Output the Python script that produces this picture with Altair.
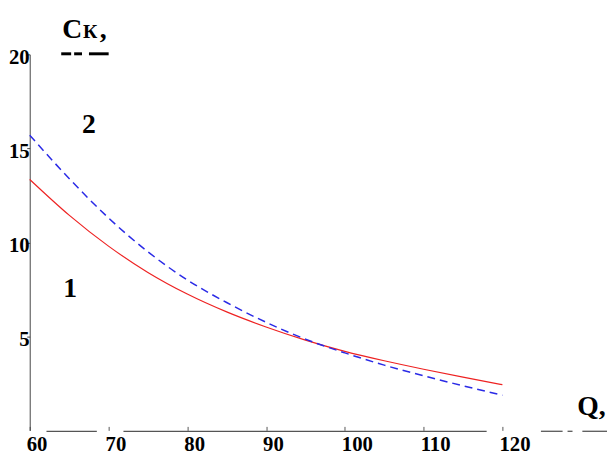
import altair as alt
import pandas as pd

# ---- data ----
q = [60, 65, 70, 75, 80, 85, 90, 95, 100, 105, 110, 115, 120]
curve1 = [13.35, 11.45, 9.8, 8.4, 7.25, 6.3, 5.5, 4.8, 4.2, 3.7, 3.25, 2.83, 2.43]      # red, solid
curve2 = [15.7, 13.4, 11.3, 9.5, 8.0, 6.8, 5.75, 4.85, 4.12, 3.47, 2.9, 2.37, 1.87]    # blue, dashed

x_ticks = [60, 70, 80, 90, 100, 110, 120]
y_ticks = [5, 10, 15, 20]

# annotation texts (position in data units)
ann_text = ["C", "К", ",", "Q,", "2", "1"]
ann_q = [64.13, 66.76, 68.89, 129.5, 67.52, 65.14]
ann_v = [20.89, 20.89, 20.89, 0.84, 15.80, 7.09]
ann_size = [28, 20, 28, 28, 28, 28]
ann_align = ["left", "left", "left", "left", "center", "center"]

# x-axis line pieces and clipped-text fragments
seg_a = [62.13, 71.9, 124.89, 128.27, 130.15]
seg_b = [68.52, 118.0, 127.64, 128.9, 133.28]
seg_v = [-0.05, -0.05, -0.05, -0.05, -0.05]
top_a = [64.0, 65.64, 67.52]
top_b = [65.26, 66.64, 70.02]
top_v = [20.03, 20.03, 20.03]

FONT = "Liberation Serif"

lines = pd.DataFrame({"Q": q * 2, "C": curve1 + curve2,
                      "s": ["1"] * len(q) + ["2"] * len(q)})
ann = pd.DataFrame({"t": ann_text, "Q": ann_q, "v": ann_v,
                    "size": ann_size, "align": ann_align})
segs = pd.DataFrame({"a": seg_a, "b": seg_b, "v": seg_v})
tops = pd.DataFrame({"a": top_a, "b": top_b, "v": top_v})
xlab = pd.DataFrame({"Q": x_ticks, "v": [0] * len(x_ticks),
                     "t": [str(t) for t in x_ticks]})
ylab = pd.DataFrame({"Q": [60] * len(y_ticks), "v": y_ticks,
                     "t": [str(t) for t in y_ticks]})

xscale = alt.Scale(domain=[60, 120], nice=False, zero=False)
yscale = alt.Scale(domain=[0, 20], nice=False, zero=False)

xaxis = alt.Axis(values=x_ticks, title="", grid=False, domain=False,
                 tickColor="#555", tickSize=4, labels=False, offset=-4)
yaxis = alt.Axis(values=y_ticks, title="", grid=False, domain=True,
                 domainColor="#444", tickColor="#444", tickSize=3,
                 labels=False)


def X(field):
    return alt.X(field, type="quantitative", scale=xscale, axis=xaxis)


def Y(field):
    return alt.Y(field, type="quantitative", scale=yscale, axis=yaxis)


red = alt.Chart(lines).transform_filter(alt.datum.s == "1").mark_line(
    color="#ee2222", strokeWidth=1.2, interpolate="monotone"
).encode(x=X("Q"), y=Y("C"))

blue = alt.Chart(lines).transform_filter(alt.datum.s == "2").mark_line(
    color="#2a2ae6", strokeWidth=1.5, strokeDash=[8, 5], interpolate="monotone"
).encode(x=X("Q"), y=Y("C"))

axis_line = alt.Chart(segs).mark_rule(color="#555", strokeWidth=1.3).encode(
    x=X("a"), x2="b", y=Y("v"))

top_frag = alt.Chart(tops).mark_rule(color="black", strokeWidth=3).encode(
    x=X("a"), x2="b", y=Y("v"))

xlabels = alt.Chart(xlab).mark_text(
    font=FONT, fontWeight="bold", fontSize=21, align="left",
    baseline="alphabetic", dx=-3, dy=21, color="black"
).encode(x=X("Q"), y=Y("v"), text="t:N")

ylabels = alt.Chart(ylab).mark_text(
    font=FONT, fontWeight="bold", fontSize=21, align="right",
    baseline="alphabetic", dx=0, dy=10, color="black"
).encode(x=X("Q"), y=Y("v"), text="t:N")

texts = []
for i in range(len(ann_text)):
    d = ann.iloc[[i]]
    texts.append(
        alt.Chart(d).mark_text(font=FONT, fontWeight="bold",
                               fontSize=int(ann_size[i]), align=ann_align[i],
                               baseline="alphabetic", color="black")
        .encode(x=X("Q"), y=Y("v"), text="t:N")
    )

chart = alt.layer(axis_line, top_frag, red, blue, xlabels, ylabels, *texts).properties(
    width=479, height=381,
    autosize=alt.AutoSizeParams(type="none"),
    padding={"left": 22, "top": 44, "right": 106, "bottom": 23},
    background="white",
).configure_view(strokeWidth=0)

chart.save("out.html", embed_options={"renderer": "svg", "actions": False})
